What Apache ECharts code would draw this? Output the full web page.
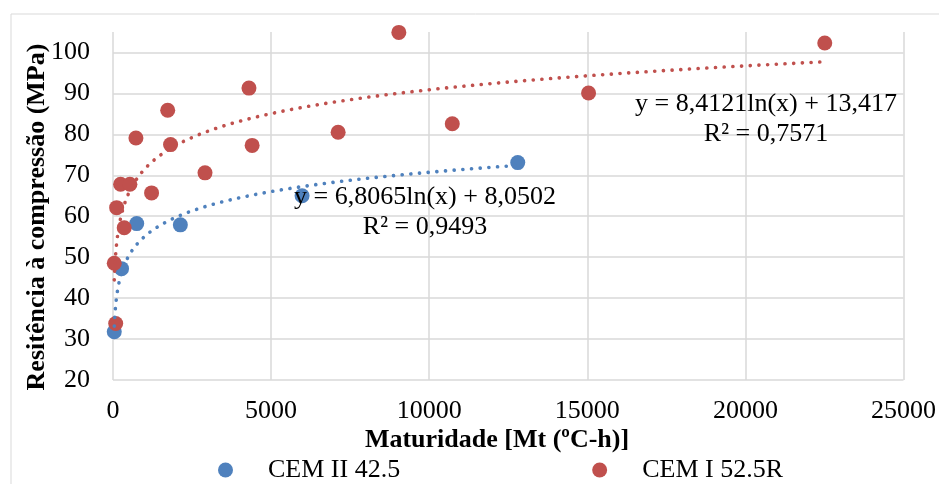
<!DOCTYPE html>
<html>
<head>
<meta charset="utf-8">
<script src="https://cdn.jsdelivr.net/npm/echarts@6/dist/echarts.min.js"></script>
<style>
html,body{margin:0;padding:0;background:#fff;}
#chart{width:939px;height:484px;}
</style>
</head>
<body>
<div id="chart"></div>
<script>
// Series names
const seriesNames = ['CEM II 42.5', 'CEM I 52.5R'];

// CEM II 42.5 — maturity (ºC-h) and strength (MPa)
const cem2X = [40, 270, 750, 2130, 5980, 12800];
const cem2Y = [31.8, 47.2, 58.2, 57.9, 65.0, 73.1];

// CEM I 52.5R — maturity (ºC-h) and strength (MPa)
const cem1X = [85, 40, 115, 240, 535, 355, 725, 1220, 1730, 1820, 2910, 4300, 4400, 7120, 9040, 10730, 15040, 22510];
const cem1Y = [33.8, 48.5, 62.1, 67.8, 67.8, 57.2, 79.1, 65.7, 85.9, 77.5, 70.6, 91.3, 77.3, 80.5, 104.9, 82.6, 90.1, 102.3];

// Logarithmic trendline coefficients, as printed on the chart: y = a·ln(x) + b
const cem2Trend = { a: 6.8065, b: 8.0502, r2: '0,9493', aTxt: '6,8065', bTxt: '8,0502' };
const cem1Trend = { a: 8.4121, b: 13.417, r2: '0,7571', aTxt: '8,4121', bTxt: '13,417' };

// Axis ticks
const xTicks = [0, 5000, 10000, 15000, 20000, 25000];
const yTicks = [20, 30, 40, 50, 60, 70, 80, 90, 100];

const xTitle = 'Maturidade [Mt (ºC-h)]';
const yTitle = 'Resitência à compressão (MPa)';

const BLUE = '#4f81bd';
const RED = '#c0504d';
const FONT = '"Liberation Serif", "Times New Roman", serif';

function pairs(xs, ys) { return xs.map((x, i) => [x, ys[i]]); }
function trendCurve(t, xs) {
  const lo = Math.min.apply(null, xs), hi = Math.max.apply(null, xs);
  const pts = [];
  const n = 200;
  for (let i = 0; i <= n; i++) {
    const x = Math.exp(Math.log(lo) + (Math.log(hi) - Math.log(lo)) * i / n);
    pts.push([x, t.a * Math.log(x) + t.b]);
  }
  return pts;
}

const chart = echarts.init(document.getElementById('chart'), null, { renderer: 'canvas' });

const dotted = (c) => ({ color: c, width: 3.6, type: [0.1, 8.6], cap: 'round', opacity: 1 });

chart.setOption({
  animation: false,
  backgroundColor: '#fff',
  textStyle: { fontFamily: FONT },
  grid: { left: 113, right: 33, top: 32, bottom: 104, containLabel: false },
  xAxis: {
    type: 'value',
    min: xTicks[0], max: xTicks[xTicks.length - 1], interval: xTicks[1] - xTicks[0],
    axisLine: { show: false }, axisTick: { show: false },
    axisLabel: { color: '#000', fontSize: 26, fontFamily: FONT, margin: 18, formatter: (v) => String(v) },
    splitLine: { show: true, lineStyle: { color: '#d9d9d9', width: 1.5 } }
  },
  yAxis: {
    type: 'value',
    min: yTicks[0], max: 105, interval: yTicks[1] - yTicks[0],
    axisLine: { show: false }, axisTick: { show: false },
    axisLabel: { color: '#000', fontSize: 26, fontFamily: FONT, margin: 23, showMaxLabel: false,
      formatter: (v) => (yTicks.indexOf(v) >= 0 ? String(v) : '') },
    splitLine: { show: true, showMaxLine: false, lineStyle: { color: '#d9d9d9', width: 1.5 } }
  },
  legend: {
    data: seriesNames,
    left: 213, top: 452,
    itemWidth: 15, itemHeight: 15, itemGap: 192,
    icon: 'circle',
    textStyle: { color: '#000', fontSize: 26, fontFamily: FONT, padding: [0, 0, 0, 30] }
  },
  series: [
    { name: seriesNames[0], type: 'scatter', data: pairs(cem2X, cem2Y), symbolSize: 15,
      itemStyle: { color: BLUE, opacity: 1 }, z: 2 },
    { name: seriesNames[1], type: 'scatter', data: pairs(cem1X, cem1Y), symbolSize: 15,
      itemStyle: { color: RED, opacity: 1 }, z: 2 },
    { name: 'trend2', type: 'line', data: trendCurve(cem2Trend, cem2X), showSymbol: false, symbol: 'none',
      lineStyle: dotted(BLUE), z: 3, silent: true },
    { name: 'trend1', type: 'line', data: trendCurve(cem1Trend, cem1X), showSymbol: false, symbol: 'none',
      lineStyle: dotted(RED), z: 3, silent: true }
  ],
  graphic: [
    { type: 'rect', shape: { x: 11, y: 14, width: 1000, height: 600 }, style: { fill: 'none', stroke: '#d9d9d9', lineWidth: 1 }, z: -10, silent: true },
    { type: 'text', x: 37, y: 217, rotation: Math.PI / 2,
      style: { text: yTitle, font: 'bold 26px ' + FONT, fill: '#000', align: 'center', verticalAlign: 'middle' } },
    { type: 'text', x: 497, y: 440,
      style: { text: xTitle, font: 'bold 26px ' + FONT, fill: '#000', align: 'center', verticalAlign: 'middle' } },
    { type: 'text', x: 425, y: 212, z: 10,
      style: { text: 'y = ' + cem2Trend.aTxt + 'ln(x) + ' + cem2Trend.bTxt + '\nR² = ' + cem2Trend.r2,
        font: '26px ' + FONT, lineHeight: 30, fill: '#000', align: 'center', verticalAlign: 'middle' } },
    { type: 'text', x: 766, y: 119, z: 10,
      style: { text: 'y = ' + cem1Trend.aTxt + 'ln(x) + ' + cem1Trend.bTxt + '\nR² = ' + cem1Trend.r2,
        font: '26px ' + FONT, lineHeight: 30, fill: '#000', align: 'center', verticalAlign: 'middle' } }
  ]
});
</script>
</body>
</html>
